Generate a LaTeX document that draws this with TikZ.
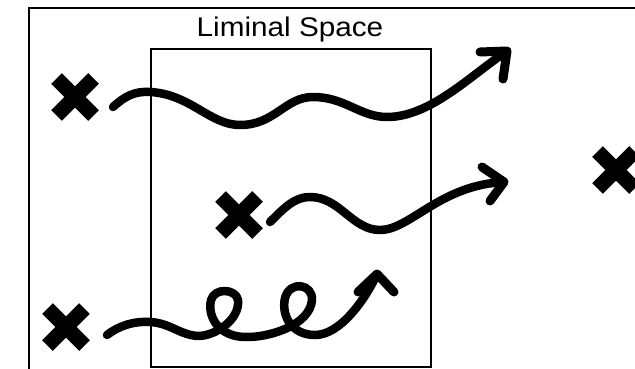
\documentclass[tikz,border=0pt]{standalone}
\usepackage{fontspec}
\setmainfont{Liberation Sans}
\usetikzlibrary{shapes.misc}
\begin{document}
\begin{tikzpicture}[x=1pt,y=-1pt,
  xmark/.style={cross out,draw,line width=15pt,minimum size=37pt,inner sep=0pt,outer sep=0pt},
  wavy/.style={line width=8.5pt,line cap=round,line join=round},
  headline/.style={line width=9pt,line cap=round,line join=round},
  frame/.style={line width=2pt}]
\useasboundingbox (0,0) rectangle (635,369);
\clip (0,0) rectangle (635,369);
\fill[white] (0,0) rectangle (635,369);
% outer frame (cropped on right and bottom)
\draw[frame] (29,8) rectangle (700,420);
% inner box
\node[draw,frame,minimum width=280pt,minimum height=318pt,inner sep=0pt] (box) at (291,208) {};
\node[anchor=base,inner sep=0pt] (title) at (290,37) {\fontsize{27}{32}\selectfont\scalebox{1.1}[1]{Liminal Space}};
% crosses
\node[xmark] (x1) at (75,97) {};
\node[xmark] (x2) at (239,215) {};
\node[xmark] (x3) at (66,327) {};
\node[xmark] (x4) at (616,170) {};
% curve endpoints
\coordinate (s1) at (113,107);
\coordinate (t1) at (507,51);
\coordinate (s2) at (270,222);
\coordinate (t2) at (504,182);
\coordinate (s3) at (107,335);
\coordinate (t3) at (377,274);
% curve 1
\draw[wavy] (s1) .. controls (125,96) and (135,91) .. (150,92)
  .. controls (190,94) and (210,125) .. (240,125)
  .. controls (275,125) and (285,97) .. (313,97)
  .. controls (345,97) and (360,117) .. (387,117)
  .. controls (430,117) and (470,76) .. (t1);
\draw[headline] (480,52) -- (t1) -- (503,79);
% curve 2
\draw[wavy] (s2) .. controls (285,207) and (295,197) .. (310,197)
  .. controls (340,197) and (352,230) .. (380,230)
  .. controls (410,230) and (440,185) .. (t2);
\draw[headline] (482,167) -- (t2) -- (490,201);
% curve 3 with loops
\draw[wavy] (s3) .. controls (120,325) and (135,321) .. (150,322)
  .. controls (170,323) and (180,335) .. (198,336)
  .. controls (215,336) and (240,320) .. (238,300)
  .. controls (236,289) and (215,287) .. (211,300)
  .. controls (207,318) and (220,338) .. (248,337)
  .. controls (270,337) and (310,325) .. (312,300)
  .. controls (313,284) and (290,280) .. (285,298)
  .. controls (281,316) and (292,335) .. (315,335)
  .. controls (340,335) and (365,300) .. (t3);
\draw[headline] (358,292) -- (t3) -- (394,292);
\end{tikzpicture}
\end{document}
